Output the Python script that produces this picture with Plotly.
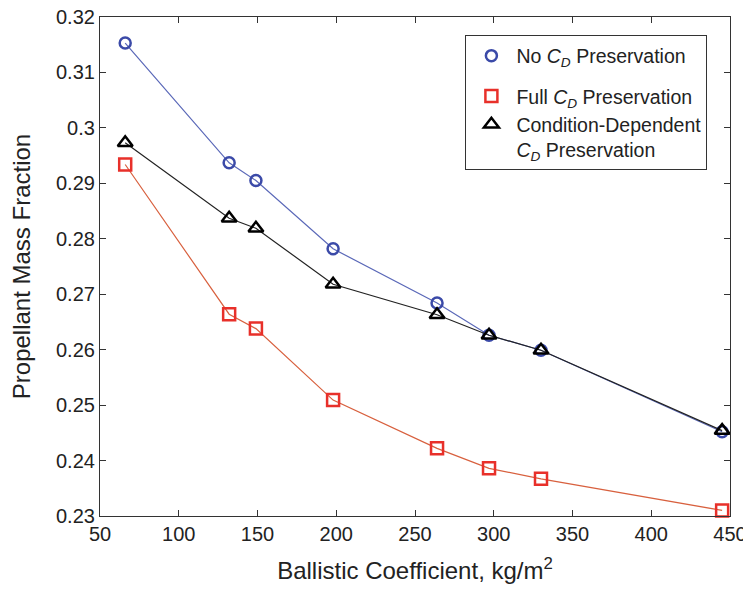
import plotly.graph_objects as go

# Data
ballistic_coef = [66, 132, 149, 198, 264, 297, 330, 445]
no_cd = [0.3153, 0.2937, 0.2905, 0.2782, 0.2684, 0.2626, 0.2599, 0.2452]
full_cd = [0.2934, 0.2664, 0.2638, 0.2509, 0.2422, 0.2386, 0.2367, 0.2310]
cond_cd = [0.2973, 0.2837, 0.2819, 0.2718, 0.2663, 0.2626, 0.2599, 0.2454]

x_ticks = [50, 100, 150, 200, 250, 300, 350, 400, 450]
y_ticks = [0.23, 0.24, 0.25, 0.26, 0.27, 0.28, 0.29, 0.30, 0.31, 0.32]
y_ticktext = ["0.23", "0.24", "0.25", "0.26", "0.27", "0.28", "0.29", "0.3", "0.31", "0.32"]

names = [
    "No <i>C</i><sub><i>D</i></sub> Preservation",
    "Full <i>C</i><sub><i>D</i></sub> Preservation",
    "Condition-Dependent<br><i>C</i><sub><i>D</i></sub> Preservation",
]

FONT = "Liberation Sans, Arial, Helvetica, sans-serif"

series = [
    (no_cd, "#5a68b8", dict(symbol="circle-open", size=11, color="#3b4aa8", line=dict(width=2.5))),
    (full_cd, "#d8603e", dict(symbol="square-open", size=12, color="#e8302a", line=dict(width=2.5))),
    (cond_cd, "#222222", dict(symbol="triangle-up-open", size=13, color="#000000", line=dict(width=2.5))),
]
groups = ["g0", "g1", "g1"]

fig = go.Figure()
for i, (vals, lc, mk) in enumerate(series):
    fig.add_trace(go.Scatter(
        x=ballistic_coef, y=vals, mode="lines+markers", name=names[i],
        line=dict(color=lc, width=1.2), marker=mk,
        cliponaxis=False, showlegend=False,
    ))
# legend entries (markers only, as in the reference)
for i, (vals, lc, mk) in enumerate(series):
    fig.add_trace(go.Scatter(
        x=[None], y=[None], mode="markers", name=names[i],
        marker=mk, legendgroup=groups[i], showlegend=True,
    ))

axis_common = dict(
    showline=True, linecolor="#333333", linewidth=1.2, mirror="ticks",
    ticks="inside", ticklen=6, tickcolor="#333333", tickwidth=1,
    showgrid=False, zeroline=False, automargin=False,
    ticklabeloverflow="allow",
    tickfont=dict(family=FONT, size=20, color="#222222"),
)

fig.update_xaxes(
    range=[50, 450], tickvals=x_ticks,
    title=dict(text="Ballistic Coefficient, kg/m<sup>2</sup>",
               font=dict(family=FONT, size=24, color="#222222"), standoff=18),
    **axis_common,
)
fig.update_yaxes(
    range=[0.23, 0.32], tickvals=y_ticks, ticktext=y_ticktext,
    title=dict(text="Propellant Mass Fraction",
               font=dict(family=FONT, size=24, color="#222222"), standoff=20),
    **axis_common,
)

# the page body adds an 8px margin, so the figure is sized to fill the rest of the window
fig.update_layout(
    width=743, height=581,
    margin=dict(l=92, r=21, t=9, b=73),
    paper_bgcolor="white", plot_bgcolor="white",
    font=dict(family=FONT, color="#222222"),
    legend=dict(
        x=0.58, y=0.963, xanchor="left", yanchor="top",
        bgcolor="white", bordercolor="#333333", borderwidth=1,
        font=dict(family=FONT, size=19.5, color="#222222"),
        tracegroupgap=12, itemwidth=40, valign="top",
    ),
    showlegend=True,
)

fig.write_html("out.html")
